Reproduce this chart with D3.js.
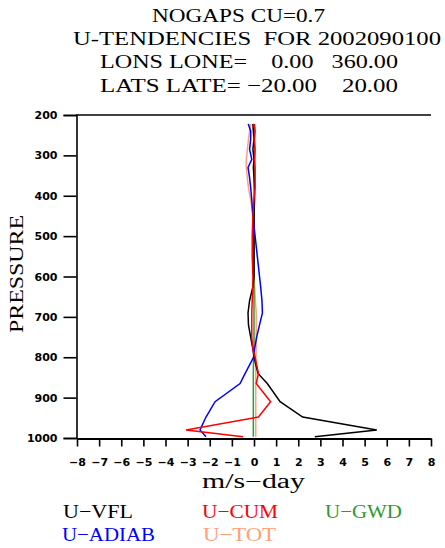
<!DOCTYPE html>
<html>
<head>
<meta charset="utf-8">
<script src="https://cdn.jsdelivr.net/npm/d3@7"></script>
<style>
  body { margin: 0; background: #fff; }
  svg { display: block; }
</style>
</head>
<body>
<div id="chart"></div>
<script>
// pressure levels (hPa) and u-tendencies (m/s-day)
var levels = [222, 240, 260, 285, 310, 330, 355, 380, 410, 450, 500, 550, 600, 625, 660, 690, 720, 750, 780, 800, 840, 865, 910, 948, 980, 997];

var vfl   = [-0.05, -0.03, 0.0, -0.05, 0.0, -0.03, 0.0, 0.02, 0.02, 0.0, 0.0, 0.0, 0.0, -0.05, -0.2, -0.27, -0.25, -0.15, -0.05, 0.0, 0.18, 0.6, 1.18, 2.2, 5.55, 2.75];
var cum   = [0.0, 0.05, 0.0, 0.05, 0.02, 0.05, 0.05, 0.05, 0.0, -0.05, -0.08, -0.08, -0.05, -0.05, -0.08, -0.1, -0.1, -0.1, -0.05, 0.05, 0.2, 0.1, 0.75, 0.2, -3.07, -0.5];
var gwd   = [0.03, 0.03, 0.03, 0.03, 0.03, 0.02, 0.02, 0.02, 0.02, 0.01, 0.0, 0.0, 0.0, 0.0, 0.0, 0.0, 0.0, 0.0, 0.0, -0.02, -0.03, -0.03, -0.03, -0.03, -0.03, -0.03];
var adiab = [-0.26, -0.15, -0.15, -0.2, -0.1, -0.27, -0.2, -0.15, -0.1, -0.05, 0.05, 0.15, 0.25, 0.3, 0.36, 0.38, 0.25, 0.12, 0.02, -0.02, -0.4, -0.63, -1.76, -2.17, -2.44, -2.17];
var tot   = [-0.15, -0.2, -0.25, -0.3, -0.35, -0.35, -0.3, -0.25, -0.15, -0.05, -0.05, -0.05, 0.0, 0.03, 0.06, 0.1, 0.1, 0.1, 0.1, 0.08, 0.08, 0.08, 0.08, 0.08, 0.08, 0.08];

var seriesNames = ["U-VFL", "U-CUM", "U-GWD", "U-ADIAB", "U-TOT"];
var seriesColors = ["#000000", "#ff0000", "#2a9a2a", "#0000ff", "#ffa07a"];
var seriesValues = [vfl, cum, gwd, adiab, tot];

var titleLines = ["NOGAPS CU=0.7", "U-TENDENCIES  FOR 2002090100", "LONS LONE=    0.00   360.00", "LATS LATE= \u221220.00    20.00"];
var xTicks = d3.range(-8, 9);
var yTicks = [200, 300, 400, 500, 600, 700, 800, 900, 1000];

var svgWidth = 445, svgHeight = 548;
var svg = d3.select("#chart").append("svg").attr("width", svgWidth).attr("height", svgHeight);

var x = d3.scaleLinear().domain([-8, 8]).range([77, 431]);
var y = d3.scaleLinear().domain([200, 1000]).range([115, 438]);

var serif = "'Liberation Serif', 'DejaVu Serif', serif";

// titles (spaces kept with nbsp)
var titlePos = [[152, 22, 173], [73, 45, 368], [100, 68, 298], [100, 92, 298]];
titleLines.forEach(function(t, i) {
  svg.append("text")
    .attr("x", titlePos[i][0]).attr("y", titlePos[i][1])
    .attr("textLength", titlePos[i][2]).attr("lengthAdjust", "spacingAndGlyphs")
    .style("font-family", serif).style("font-size", "19px")
    .text(t.replace(/ /g, "\u00a0"));
});

// axes
var leftAxis = d3.axisLeft(y).tickValues(yTicks).tickSize(13).tickPadding(6).tickFormat(d3.format("d"));
var gy = svg.append("g").attr("transform", "translate(76.5,0)").call(leftAxis);
gy.select(".domain").attr("stroke-width", 1.6);
gy.selectAll(".tick line").attr("stroke-width", 1.6);
gy.selectAll("text").style("font-family", "'DejaVu Sans', sans-serif").style("font-size", "11px").style("font-weight", "bold");

var bottomAxis = d3.axisBottom(x).tickValues(xTicks).tickSize(8).tickPadding(12).tickSizeOuter(0);
var gx = svg.append("g").attr("transform", "translate(0,438.5)").call(bottomAxis);
gx.select(".domain").attr("stroke-width", 2);
gx.selectAll(".tick line").attr("stroke-width", 1.6);
gx.selectAll("text").style("font-family", "'DejaVu Sans', sans-serif").style("font-size", "11px").style("font-weight", "bold");

// top frame line
svg.append("line").attr("x1", 76).attr("x2", 431).attr("y1", 115).attr("y2", 115)
  .attr("stroke", "#000").attr("stroke-width", 1.6);

// curves
var line = d3.line().x(function(d) { return x(d[0]); }).y(function(d) { return y(d[1]); });
var order = [4, 2, 0, 3, 1];
order.forEach(function(k) {
  var pts = levels.map(function(p, i) { return [seriesValues[k][i], p]; });
  svg.append("path").datum(pts)
    .attr("d", line).attr("fill", "none")
    .attr("stroke", seriesColors[k]).attr("stroke-width", 1.5);
});

// axis titles
svg.append("text")
  .attr("transform", "translate(23,274) rotate(-90)")
  .attr("text-anchor", "middle")
  .attr("textLength", 118).attr("lengthAdjust", "spacingAndGlyphs")
  .style("font-family", serif).style("font-size", "19px")
  .text("PRESSURE");

svg.append("text")
  .attr("x", 202).attr("y", 488)
  .attr("textLength", 103).attr("lengthAdjust", "spacingAndGlyphs")
  .style("font-family", serif).style("font-size", "20px")
  .text("m/s\u2212day");

// legend
var legendPos = [[63, 518, 70], [202, 518, 76], [325, 518, 77], [62, 541, 93], [203, 541, 73]];
seriesNames.forEach(function(n, i) {
  svg.append("text")
    .attr("x", legendPos[i][0]).attr("y", legendPos[i][1])
    .attr("textLength", legendPos[i][2]).attr("lengthAdjust", "spacingAndGlyphs")
    .style("font-family", serif).style("font-size", "19px")
    .attr("fill", seriesColors[i])
    .text(n.replace("-", "\u2212"));
});
</script>
</body>
</html>
